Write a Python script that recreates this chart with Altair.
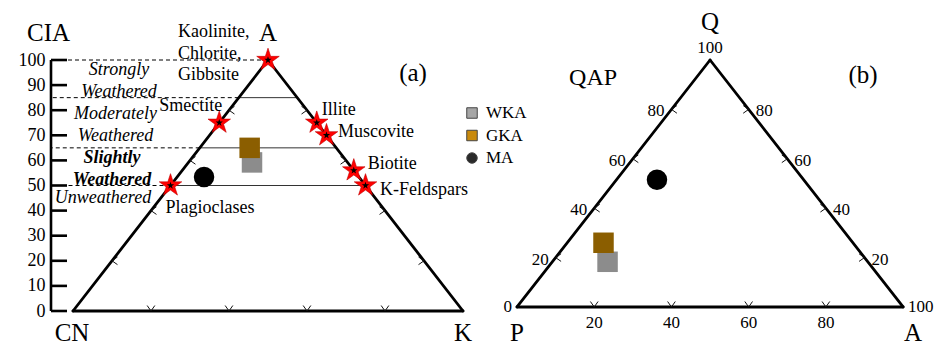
import altair as alt
import pandas as pd

SERIF = "Liberation Serif"

# sample groups
groups = ["WKA", "GKA", "MA"]
group_colors = ["#8c8c8c", "#8b5e00", "#000000"]
legend_colors = ["#a6a6a6", "#c98a0c", "#2a2a2a"]
group_shapes = ["square", "square", "circle"]

# (a) A-CN-K diagram: A (= CIA) and K, CN = 100 - A - K
acnk_A = [59.2, 65.0, 53.4]
acnk_K = [16.3, 12.8, 6.9]

# (b) QAP diagram: Q and A, P = 100 - Q - A
qap_Q = [18.3, 26.0, 51.5]
qap_A = [14.3, 9.4, 10.5]

# reference minerals on the A-CN-K diagram
minerals = ["Kaolinite, Chlorite, Gibbsite", "Smectite", "Plagioclases",
            "Illite", "Muscovite", "Biotite", "K-Feldspars"]
mineral_A = [100, 75, 50, 75, 70, 56, 50]
mineral_K = [0, 0, 0, 25, 30, 44, 50]

# CIA axis and weathering zones
cia_ticks = [0, 10, 20, 30, 40, 50, 60, 70, 80, 90, 100]
zone_upper = [100, 85, 65, 50]
zone_lower = [85, 65, 50, 0]
zone_lines = [["Strongly", "Weathered"], ["Moderately", "Weathered"],
              ["Slightly", "Weathered"], ["Unweathered"]]

# ternary edge ticks (%)
edge_ticks = [20, 40, 60, 80]

# ---------------------------------------------------------------------------
# Frame: base of triangle (a) spans 0..100 on x, CIA 0..100 on y.
# Triangle (b) is drawn in the same frame, shifted right and slightly smaller.
B_X0, B_Y0, B_SX, B_SY = 113.85, 1.6, 0.99, 0.984

STAR = ("M0,-1L0.2245,-0.309L0.951,-0.309L0.363,0.118L0.588,0.809"
        "L0,0.382L-0.588,0.809L-0.363,0.118L-0.951,-0.309L-0.2245,-0.309Z")


def project(chart, top="top", right="right", suffix=""):
    """Ternary (top, right) percentages -> frame coordinates."""
    return chart.transform_calculate(
        **{f"tx{suffix}": f"datum.{right} + datum.{top} / 2"}
    ).transform_calculate(
        **{
            f"px{suffix}": f"datum.panel == 'a' ? datum.tx{suffix} : {B_X0} + {B_SX} * datum.tx{suffix}",
            f"py{suffix}": f"datum.panel == 'a' ? datum.{top} : {B_Y0} + {B_SY} * datum.{top}",
        }
    )


xs = alt.Scale(domain=[0, 100], nice=False, zero=False)
ys = alt.Scale(domain=[0, 100], nice=False, zero=False)
yax = alt.Axis(values=cia_ticks, domain=False, ticks=False, tickSize=0,
               grid=False, title=None, labelFont=SERIF, labelFontSize=18,
               labelColor="black", labelPadding=28, labelFlush=False,
               labelOverlap=False)
X = alt.X("px:Q", scale=xs, axis=None)
Y = alt.Y("py:Q", scale=ys, axis=yax)

# --- triangles (one rule per edge) -----------------------------------------
edges = pd.DataFrame({
    "panel": ["a"] * 3 + ["b"] * 3,
    "top": [0, 100, 0] * 2, "right": [0, 0, 100] * 2,
    "top2": [100, 0, 0] * 2, "right2": [0, 100, 0] * 2,
})
triangles = project(project(alt.Chart(edges)), "top2", "right2", "2").mark_rule(
    color="black", strokeWidth=2.8, strokeCap="round"
).encode(x=X, y=Y, x2="px2:Q", y2="py2:Q")


# --- chevron ticks on the triangle edges -----------------------------------
def edge_tick_layer(side, path):
    rows = []
    for panel in "ab":
        for t in edge_ticks:
            if side == "left":
                rows.append((panel, t, 0))
            elif side == "right":
                rows.append((panel, t, 100 - t))
            else:
                rows.append((panel, 0, t))
    df = pd.DataFrame(rows, columns=["panel", "top", "right"])
    return project(alt.Chart(df)).mark_point(
        shape=path, size=120, filled=False, color="#111", strokeWidth=1, opacity=1
    ).encode(x=X, y=Y)


tick_left = edge_tick_layer("left", "M1,-0.7L0,0L1,0.7")
tick_right = edge_tick_layer("right", "M-1,-0.7L0,0L-1,0.7")
tick_base = edge_tick_layer("base", "M-0.7,-1L0,0L0.7,-1")

# --- CIA axis line and inward ticks ----------------------------------------
cia_line = alt.Chart(pd.DataFrame({"v0": [cia_ticks[0]], "v1": [cia_ticks[-1]]})).mark_rule(
    color="black", strokeWidth=2.6
).encode(x=alt.value(-22), y=alt.Y("v0:Q", scale=ys, axis=yax), y2="v1:Q")
cia_tick_rules = alt.Chart(pd.DataFrame({"v": cia_ticks})).mark_rule(
    color="black", strokeWidth=2.6
).encode(x=alt.value(-22), x2=alt.value(-6), y=alt.Y("v:Q", scale=ys, axis=yax))

# --- zone boundaries -------------------------------------------------------
dashed = alt.Chart(pd.DataFrame({"top": zone_upper})).transform_calculate(
    xe="datum.top / 2"
).mark_rule(color="black", strokeWidth=1, strokeDash=[4, 3]).encode(
    x=alt.X("xe:Q", scale=xs, axis=None), x2=alt.value(-22),
    y=alt.Y("top:Q", scale=ys, axis=yax),
)
inner = alt.Chart(pd.DataFrame({"top": zone_upper[1:]})).transform_calculate(
    xl="datum.top / 2", xr="100 - datum.top / 2"
).mark_rule(color="#333", strokeWidth=1).encode(
    x=alt.X("xl:Q", scale=xs, axis=None), x2="xr:Q",
    y=alt.Y("top:Q", scale=ys, axis=yax),
)

# --- mineral stars ---------------------------------------------------------
mins = pd.DataFrame({"panel": ["a"] * len(minerals), "top": mineral_A,
                     "right": mineral_K, "label": minerals})
stars_red = project(alt.Chart(mins)).mark_point(
    shape=STAR, filled=True, color="#ff0000", stroke="#c00000",
    strokeWidth=0.6, size=560, opacity=1
).encode(x=X, y=Y)
stars_black = project(alt.Chart(mins)).mark_point(
    shape=STAR, filled=True, color="black", size=60, opacity=1
).encode(x=X, y=Y)

# --- samples ---------------------------------------------------------------
pts = pd.DataFrame({
    "panel": ["a"] * 3 + ["b"] * 3,
    "group": groups * 2,
    "top": acnk_A + qap_Q,
    "right": acnk_K + qap_A,
})
points = project(alt.Chart(pts)).mark_point(filled=True, size=420, opacity=1).encode(
    x=X, y=Y,
    color=alt.Color("group:N", scale=alt.Scale(domain=groups, range=group_colors), legend=None),
    shape=alt.Shape("group:N", scale=alt.Scale(domain=groups, range=group_shapes), legend=None),
)

# legend: one row per group
legend_layers = []
for i, g in enumerate(groups):
    row = pd.DataFrame({"label": [g]})
    legend_layers.append(alt.Chart(row).mark_point(
        shape=group_shapes[i], filled=True, color=legend_colors[i],
        stroke="#444", strokeWidth=1, size=110, opacity=1
    ).encode(x=alt.value(399), y=alt.value(53 + 22.5 * i)))
    legend_layers.append(alt.Chart(row).mark_text(
        font=SERIF, fontSize=17, color="black", align="left", baseline="middle"
    ).encode(x=alt.value(413), y=alt.value(53 + 22.5 * i), text="label:N"))


# --- text ------------------------------------------------------------------
def text_layer(df, x=None, **mk):
    style = dict(font=SERIF, color="black", fontSize=18, baseline="middle",
                 align="center")
    style.update(mk)
    enc = dict(x=X if x is None else x, y=Y, text="label:N")
    return project(alt.Chart(df)).mark_text(**style).encode(**enc)


def anchored(panel, top, right, label):
    return pd.DataFrame({"panel": [panel], "top": [top], "right": [right],
                         "label": [label]})


texts = []

# mineral names next to their stars (a list of names is stacked line by line)
mineral_style = {
    "Kaolinite, Chlorite, Gibbsite": dict(align="left", dx=-90, dy=-28),
    "Smectite": dict(align="right", dx=3, dy=-17),
    "Plagioclases": dict(align="left", dx=-5, dy=22),
    "Illite": dict(align="left", dx=5, dy=-13),
    "Muscovite": dict(align="left", dx=11.5, dy=-3),
    "Biotite": dict(align="left", dx=14, dy=-6),
    "K-Feldspars": dict(align="left", dx=14.5, dy=4.5),
}
for name, a, k in zip(minerals, mineral_A, mineral_K):
    st = dict(mineral_style[name])
    dy0 = st.pop("dy")
    for j, line in enumerate(name.split(" ") if ", " in name else [name]):
        texts.append(text_layer(anchored("a", a, k, line), dy=dy0 + 21.5 * j, **st))

# weathering zone names
zone_x = [46, 42.5, 39, 30]
for i, (hi, lo, lines) in enumerate(zip(zone_upper, zone_lower, zone_lines)):
    if lo > 0:
        anchor, dy0 = (hi + lo) / 2, -8.5
    else:
        anchor, dy0 = hi, 12.5
    style = dict(fontStyle="italic")
    if lines[0] == "Slightly":
        style["fontWeight"] = "bold"
    for j, line in enumerate(lines):
        texts.append(text_layer(anchored("a", anchor, 0, line),
                                x=alt.value(zone_x[i]), dy=dy0 + 21.5 * j, **style))

# vertex names and panel titles
texts += [
    text_layer(anchored("a", 0, 0, "CN"), fontSize=25, dx=-1, dy=22),
    text_layer(anchored("a", 0, 100, "K"), fontSize=25, dy=22),
    text_layer(anchored("a", 100, 0, "A"), fontSize=25, dy=-27),
    text_layer(anchored("a", 100, 0, "(a)"), fontSize=25, dx=145, dy=13),
    text_layer(anchored("a", 100, 0, "CIA"), x=alt.value(-24.5), fontSize=25, dy=-27),
    text_layer(anchored("b", 0, 0, "P"), fontSize=25, dy=26),
    text_layer(anchored("b", 0, 100, "A"), fontSize=25, dx=10, dy=26),
    text_layer(anchored("b", 100, 0, "Q"), fontSize=25, dy=-38),
    text_layer(anchored("b", 100, 0, "QAP"), fontSize=24, dx=-117, dy=18),
    text_layer(anchored("b", 100, 0, "(b)"), fontSize=25, dx=153, dy=15),
    text_layer(anchored("b", 0, 0, "0"), fontSize=17, align="right", dx=-5),
    text_layer(anchored("b", 0, 100, "100"), fontSize=17, align="left", dx=5),
    text_layer(anchored("b", 100, 0, "100"), fontSize=17, dy=-12),
]

# QAP scale labels
lab = [str(t) for t in edge_ticks]
n = len(edge_ticks)
left_lab = pd.DataFrame({"panel": ["b"] * n, "top": edge_ticks, "right": [0] * n, "label": lab})
right_lab = pd.DataFrame({"panel": ["b"] * n, "top": edge_ticks,
                          "right": [100 - t for t in edge_ticks], "label": lab})
base_lab = pd.DataFrame({"panel": ["b"] * n, "top": [0] * n, "right": edge_ticks, "label": lab})
texts += [
    text_layer(left_lab, fontSize=17, align="right", dx=-7, dy=2),
    text_layer(right_lab, fontSize=17, align="left", dx=7, dy=2),
    text_layer(base_lab, fontSize=17, dy=16),
]

chart = alt.layer(
    dashed, inner, cia_line, cia_tick_rules, triangles,
    tick_left, tick_right, tick_base,
    points, stars_red, stars_black, *legend_layers, *texts
).properties(
    width=390, height=251,
    autosize=alt.AutoSizeParams(type="none"),
    padding={"left": 73, "top": 60, "right": 477, "bottom": 36},
).configure_view(strokeWidth=0)

chart.save("out.html", embed_options={"renderer": "svg", "actions": False})
